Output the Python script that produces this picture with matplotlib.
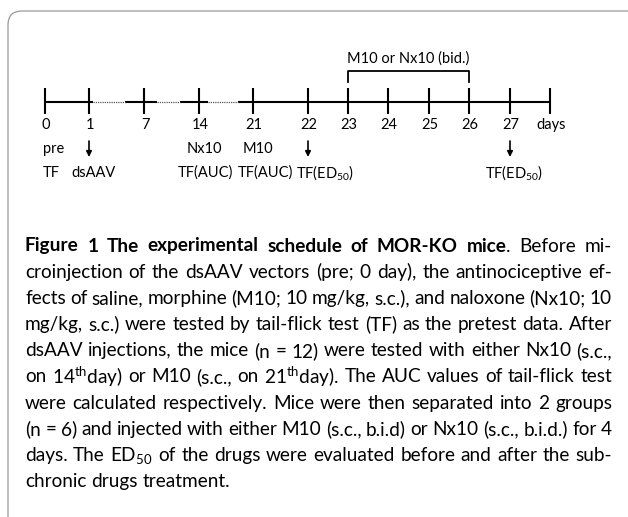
import matplotlib
matplotlib.use("Agg")
import matplotlib.pyplot as plt
from matplotlib.patches import FancyBboxPatch

# timeline content
day_labels = ["0", "1", "7", "14", "21", "22", "23", "24", "25", "26", "27", "days"]
tick_x = [45, 89, 144, 199, 253, 308, 348, 388, 429, 469, 510, 550]
dotted_spans = [(93, 125), (157, 180), (208, 238)]
arrow_days = ["1", "22", "27"]
row2 = [("pre", 54), ("Nx10", 204), ("M10", 258)]
row3 = [("TF", 51), ("dsAAV", 93), ("TF(AUC)", 205), ("TF(AUC)", 265),
        (r"TF(ED$\mathregular{_{50}}$)", 325), (r"TF(ED$\mathregular{_{50}}$)", 514)]
bracket_days = ("23", "26")
bracket_label = "M10 or Nx10 (bid.)"

# caption lines; **x** = bold, | glues pieces of one word
caption_lines = [
    "**Figure** **1** **The** **experimental** **schedule** **of** **MOR-KO** **mice**|. Before mi-",
    "croinjection of the dsAAV vectors (pre; 0 day), the antinociceptive ef-",
    "fects of saline, morphine (M10; 10 mg/kg, s.c.), and naloxone (Nx10; 10",
    "mg/kg, s.c.) were tested by tail-flick test (TF) as the pretest data. After",
    "dsAAV injections, the mice (n = 12) were tested with either Nx10 (s.c.,",
    r"on 14$\mathregular{^{th}}$day) or M10 (s.c., on 21$\mathregular{^{th}}$day). The AUC values of tail-flick test",
    "were calculated respectively. Mice were then separated into 2 groups",
    "(n = 6) and injected with either M10 (s.c., b.i.d) or Nx10 (s.c., b.i.d.) for 4",
    r"days. The ED$\mathregular{_{50}}$ of the drugs were evaluated before and after the sub-",
    "chronic drugs treatment.",
]

W, H = 628, 517
fig = plt.figure(figsize=(W / 100, H / 100), dpi=100)
ax = fig.add_axes([0, 0, 1, 1])
ax.set_xlim(0, W)
ax.set_ylim(H, 0)
ax.axis("off")

tl_font = ["Lato", "DejaVu Sans"]
cap_font = ["Lato", "DejaVu Sans"]
tl_fs = 10.5

# frame
frame = FancyBboxPatch((8, 11), 640, 520, boxstyle="round,pad=0,rounding_size=14",
                       fc="none", ec="#999999", lw=0.9, clip_on=False)
ax.add_patch(frame)

# main line with dotted gaps
y0 = 102
pieces = []
start = tick_x[0]
for a, b in dotted_spans:
    pieces.append((start, a))
    start = b
pieces.append((start, tick_x[-1]))
for a, b in pieces:
    ax.plot([a, b], [y0, y0], color="black", lw=1.5, solid_capstyle="butt")
for a, b in dotted_spans:
    ax.plot([a, b], [y0, y0], color="#555555", lw=0.9, dashes=(1, 0.8))
for x in tick_x:
    ax.plot([x, x], [88, 114], color="black", lw=1.5, solid_capstyle="butt")

for lab, x in zip(day_labels, tick_x):
    ax.text(x + 1, 125, lab, ha="center", va="center", fontsize=tl_fs, family=tl_font)

for lab, x in row2:
    ax.text(x, 149, lab, ha="center", va="center", fontsize=tl_fs, family=tl_font)
for lab, x in row3:
    ax.text(x, 173, lab, ha="center", va="center", fontsize=tl_fs, family=tl_font)

for d in arrow_days:
    x = tick_x[day_labels.index(d)]
    ax.annotate("", xy=(x, 157), xytext=(x, 141),
                arrowprops=dict(arrowstyle="-|>", color="black", lw=1.2,
                                mutation_scale=8, shrinkA=0, shrinkB=0))

# bracket
bx0 = tick_x[day_labels.index(bracket_days[0])]
bx1 = tick_x[day_labels.index(bracket_days[1])]
ax.plot([bx0, bx0, bx1, bx1], [82, 71, 71, 82], color="black", lw=1.3)
ax.text((bx0 + bx1) / 2, 59, bracket_label, ha="center", va="center",
        fontsize=tl_fs, family=tl_font)

# caption, justified
renderer = fig.canvas.get_renderer()
left, right = 25, 612
top, spacing = 246, 26.2


def parse_word(w):
    segs = []
    for part in w.split("|"):
        if part.startswith("**") and part.endswith("**"):
            segs.append((part[2:-2], True))
        elif part:
            segs.append((part, False))
    return segs


def measure(s, fs, bold=False):
    t = ax.text(0, 0, s, fontsize=fs, family=cap_font,
                fontweight="bold" if bold else "normal")
    w = t.get_window_extent(renderer).width
    t.remove()
    return w


# choose a size so the tightest line still has near-normal word spacing
ref_fs = 10
sp10 = measure("a a", ref_fs) - measure("aa", ref_fs)
fs = 20
for line in caption_lines[:-1]:
    words = [parse_word(w) for w in line.split(" ")]
    tot = sum(measure(s, ref_fs, b) for w in words for s, b in w)
    need = tot + (len(words) - 1) * sp10 * 0.9
    fs = min(fs, ref_fs * (right - left) / need)
space_w = sp10 * fs / ref_fs

for i, line in enumerate(caption_lines):
    y = top + i * spacing
    words = [parse_word(w) for w in line.split(" ")]
    objs = []
    widths = []
    for w in words:
        wo = []
        ww = 0
        for s, bold in w:
            t = ax.text(0, y, s, fontsize=fs, family=cap_font, va="center",
                        ha="left", fontweight="bold" if bold else "normal")
            e = t.get_window_extent(renderer).width
            wo.append((t, e))
            ww += e
        objs.append(wo)
        widths.append(ww)
    if i < len(caption_lines) - 1 and len(words) > 1:
        gap = (right - left - sum(widths)) / (len(words) - 1)
    else:
        gap = space_w
    x = left
    for wo, ww in zip(objs, widths):
        xx = x
        for t, e in wo:
            t.set_x(xx)
            xx += e
        x += ww + gap

fig.savefig("out.png", dpi=100)
